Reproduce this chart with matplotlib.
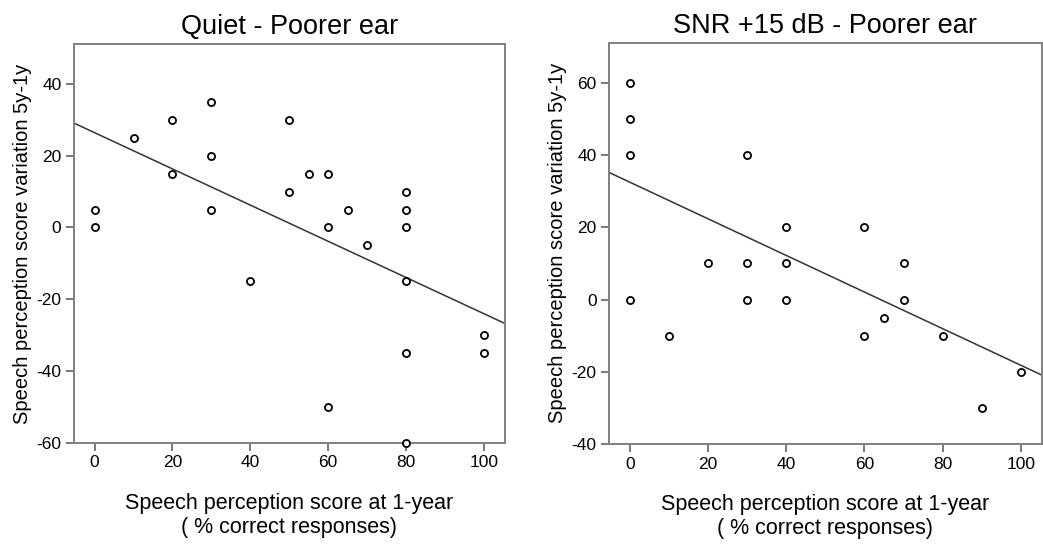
import matplotlib
matplotlib.use("Agg")
import matplotlib.pyplot as plt
import numpy as np

plt.rcParams["font.family"] = ["Liberation Sans", "DejaVu Sans"]
plt.rcParams["axes.unicode_minus"] = False

# Quiet - poorer ear
quiet_x = [0, 0, 10, 20, 20, 30, 30, 30, 40, 50, 50, 55, 60, 60, 60, 65, 70,
           80, 80, 80, 80, 80, 80, 100, 100]
quiet_y = [5, 0, 25, 30, 15, 35, 20, 5, -15, 30, 10, 15, 15, 0, -50, 5, -5,
           10, 5, 0, -15, -35, -60, -30, -35]
quiet_fit = (26.4, -0.504)  # intercept, slope

# SNR +15 dB - poorer ear
snr_x = [0, 0, 0, 0, 10, 20, 30, 30, 30, 40, 40, 40, 60, 60, 65, 70, 70, 80, 90, 100]
snr_y = [60, 50, 40, 0, -10, 10, 40, 10, 0, 20, 10, 0, 20, -10, -5, 10, 0, -10, -30, -20]
snr_fit = (32.5, -0.507)

titles = ["Quiet - Poorer ear", "SNR +15 dB - Poorer ear"]
x_ticks = [0, 20, 40, 60, 80, 100]
quiet_yticks = [-60, -40, -20, 0, 20, 40]
snr_yticks = [-40, -20, 0, 20, 40, 60]

fig = plt.figure(figsize=(10.43, 5.45), dpi=100)
ax1 = fig.add_axes([0.0709, 0.1872, 0.4132, 0.7321])
ax2 = fig.add_axes([0.5839, 0.1853, 0.4151, 0.7363])

panels = [
    (ax1, quiet_x, quiet_y, quiet_fit, quiet_yticks, (-60, 51.1)),
    (ax2, snr_x, snr_y, snr_fit, snr_yticks, (-40, 71.1)),
]

for i, (ax, xs, ys, fit, yt, ylim) in enumerate(panels):
    xlim = (-5.3, 105.4)
    ax.scatter(xs, ys, s=26, facecolors="white", edgecolors="black",
               linewidths=1.3, zorder=3, clip_on=False)
    lx = np.array(xlim)
    ax.plot(lx, fit[0] + fit[1] * lx, color="#333333", linewidth=1.1, zorder=2)
    ax.set_xlim(*xlim)
    ax.set_ylim(*ylim)
    ax.set_xticks(x_ticks)
    ax.set_yticks(yt)
    for sp in ax.spines.values():
        sp.set_color("#808080")
        sp.set_linewidth(1.4)
    ax.tick_params(direction="out", length=6, width=1.1, color="#555555",
                   labelsize=12.5, pad=3)
    ax.set_title(titles[i], fontsize=19.5, pad=7)
    ax.set_xlabel("Speech perception score at 1-year\n( % correct responses)",
                  fontsize=15.5, linespacing=1.2, labelpad=16)
    ax.set_ylabel("Speech perception score variation 5y-1y", fontsize=14.5, labelpad=3)

fig.savefig("out.png", dpi=100)
